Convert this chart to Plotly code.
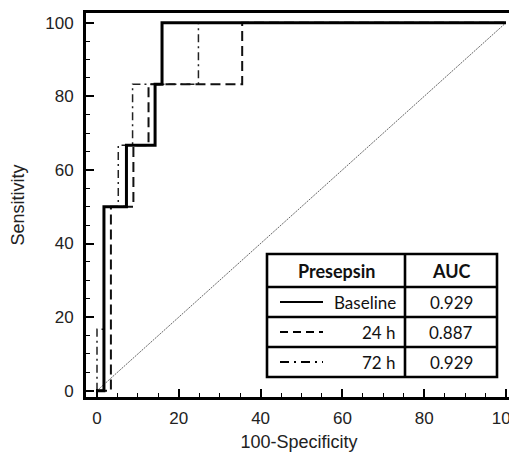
import plotly.graph_objects as go

# ROC points (100-Specificity, Sensitivity), drawn as steps
baseline_x = [0, 1.7, 7.2, 14.2, 15.9, 100]
baseline_y = [0, 50, 66.7, 83.3, 100, 100]
h24_x = [0, 3.4, 8.9, 12.6, 35.5, 100]
h24_y = [0, 50, 66.7, 83.3, 100, 100]
h72_x = [0, 0, 1.7, 5.2, 8.7, 24.8, 100]
h72_y = [0, 16.7, 50, 66.7, 83.3, 100, 100]
diag = [0, 100]

table_header = ["Presepsin", "AUC"]
series_names = ["Baseline", "24 h", "72 h"]
auc_values = ["0.929", "0.887", "0.929"]

OFF = 8  # page body margin
W, H = 517 - OFF, 452 - OFF
L, R, T, B = 78, 504, 5, 389


def px(x):
    # x given in window pixels
    return (x - OFF - L) / (R - L)


def py(y):
    return (B - (y - OFF)) / (B - T)


fig = go.Figure()
fig.add_trace(go.Scatter(x=diag, y=diag, mode="lines",
                         line=dict(color="#666", width=1, dash="2px,1px"),
                         showlegend=False, hoverinfo="skip"))
fig.add_trace(go.Scatter(x=h72_x, y=h72_y, mode="lines", line_shape="hv",
                         line=dict(color="#222", width=1.5, dash="8px,4px,2px,4px"),
                         showlegend=False))
fig.add_trace(go.Scatter(x=h24_x, y=h24_y, mode="lines", line_shape="hv",
                         line=dict(color="#111", width=2, dash="10px,5px"),
                         showlegend=False))
fig.add_trace(go.Scatter(x=baseline_x, y=baseline_y, mode="lines", line_shape="hv",
                         line=dict(color="#000", width=3),
                         showlegend=False))

shapes = []
anns = []
# table box (window pixel positions)
tl, tr, tt, tb = 267, 497, 254, 377
cdiv = 405
rows = [254, 287, 317, 347, 377]
lw = 2.6
shapes.append(dict(type="rect", xref="paper", yref="paper",
                   x0=px(tl), x1=px(tr), y0=py(tb), y1=py(tt),
                   line=dict(color="black", width=lw), fillcolor="white", layer="above"))
shapes.append(dict(type="line", xref="paper", yref="paper",
                   x0=px(cdiv), x1=px(cdiv), y0=py(tb), y1=py(tt),
                   line=dict(color="black", width=lw)))
for r in rows[1:-1]:
    shapes.append(dict(type="line", xref="paper", yref="paper",
                       x0=px(tl), x1=px(tr), y0=py(r), y1=py(r),
                       line=dict(color="black", width=lw)))

font_t = dict(family="Lato, Carlito, sans-serif", size=17, color="#111")
font_h = dict(family="Lato, Carlito, sans-serif", size=18, color="#111")
anns.append(dict(xref="paper", yref="paper", x=px((tl + cdiv) / 2), y=py(271),
                 text="<b>" + table_header[0] + "</b>", showarrow=False, font=font_h,
                 xanchor="center", yanchor="middle"))
anns.append(dict(xref="paper", yref="paper", x=px((cdiv + tr) / 2), y=py(271),
                 text="<b>" + table_header[1] + "</b>", showarrow=False, font=font_h,
                 xanchor="center", yanchor="middle"))
dashes = ["solid", "8px,5px", "9px,5px,2px,5px"]
widths = [2, 2.2, 1.8]
for i, (nm, auc) in enumerate(zip(series_names, auc_values)):
    cy = (rows[i + 1] + rows[i + 2]) / 2
    shapes.append(dict(type="line", xref="paper", yref="paper",
                       x0=px(280), x1=px(323), y0=py(cy), y1=py(cy),
                       line=dict(color="black", width=widths[i], dash=dashes[i])))
    anns.append(dict(xref="paper", yref="paper", x=px(398), y=py(cy),
                     text=nm, showarrow=False, font=font_t,
                     xanchor="right", yanchor="middle"))
    anns.append(dict(xref="paper", yref="paper", x=px((cdiv + tr) / 2), y=py(cy),
                     text=auc, showarrow=False, font=font_t,
                     xanchor="center", yanchor="middle"))

axis_font = dict(family="Liberation Sans, Arial, sans-serif", size=17, color="#222")
title_font = dict(family="Liberation Sans, Arial, sans-serif", size=18, color="#222")
fig.update_layout(
    width=W, height=H,
    margin=dict(l=L, r=W - R, t=T, b=H - B),
    paper_bgcolor="white", plot_bgcolor="white",
    shapes=shapes, annotations=anns,
    xaxis=dict(range=[-2.69, 101.47], tickvals=[0, 20, 40, 60, 80, 100],
               automargin=False, ticklabeloverflow="allow",
               ticks="inside", ticklen=8, tickwidth=1.5, tickcolor="black",
               minor=dict(dtick=5, ticks="inside", ticklen=4, tickwidth=1.2, tickcolor="black", showgrid=False),
               showline=True, linecolor="black", linewidth=3, mirror=True,
               showgrid=False, zeroline=False, tickfont=axis_font,
               ticklabelstandoff=4,
               title=dict(text="100-Specificity", font=title_font, standoff=10)),
    yaxis=dict(range=[-1.71, 102.64], tickvals=[0, 20, 40, 60, 80, 100],
               automargin=False, ticklabeloverflow="allow",
               ticks="inside", ticklen=8, tickwidth=1.5, tickcolor="black",
               minor=dict(dtick=5, ticks="inside", ticklen=4, tickwidth=1.2, tickcolor="black", showgrid=False),
               showline=True, linecolor="black", linewidth=3, mirror=True,
               showgrid=False, zeroline=False, tickfont=axis_font,
               ticklabelstandoff=6,
               title=dict(text="Sensitivity", font=title_font, standoff=18)),
)
fig.write_html("out.html")
